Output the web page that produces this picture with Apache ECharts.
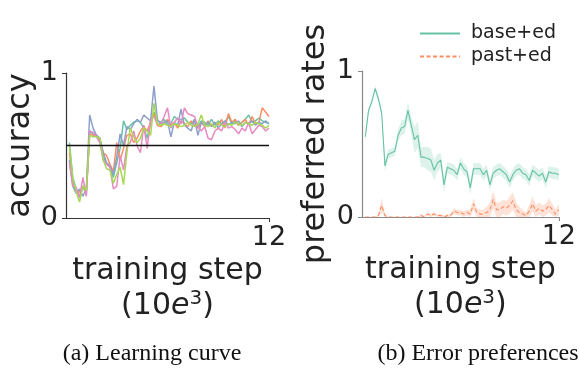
<!DOCTYPE html>
<html><head><meta charset="utf-8">
<script src="https://cdn.jsdelivr.net/npm/echarts@6/dist/echarts.min.js"></script>
<style>html,body{margin:0;padding:0;background:#fff}#c{width:579px;height:371px}</style>
</head><body><div id="c"></div>
<script>
// training steps (10e3)
var steps = [];
for (var i = 1; i <= 60; i++) steps.push(+(i * 0.2).toFixed(1));
var xTicks = [12];
var yTicks = [0, 1];

// (a) learning curves, five runs
var runGreen = [0.52,0.28,0.20,0.14,0.22,0.16,0.60,0.58,0.57,0.55,0.42,0.38,0.35,0.28,0.38,0.48,0.67,0.61,0.64,0.66,0.67,0.66,0.62,0.55,0.66,0.73,0.67,0.66,0.68,0.64,0.65,0.70,0.68,0.68,0.69,0.66,0.65,0.68,0.63,0.67,0.66,0.64,0.68,0.64,0.67,0.65,0.66,0.70,0.65,0.67,0.64,0.66,0.68,0.71,0.66,0.67,0.69,0.67,0.66,0.65];
var runOrange = [0.45,0.25,0.18,0.18,0.22,0.18,0.58,0.57,0.57,0.54,0.45,0.43,0.37,0.32,0.52,0.40,0.48,0.57,0.58,0.52,0.55,0.60,0.63,0.60,0.66,0.72,0.64,0.63,0.65,0.68,0.64,0.66,0.62,0.67,0.65,0.63,0.67,0.64,0.62,0.66,0.63,0.67,0.63,0.66,0.64,0.68,0.62,0.72,0.66,0.68,0.64,0.66,0.68,0.64,0.70,0.65,0.66,0.76,0.73,0.70];
var runBlue = [0.40,0.22,0.17,0.20,0.15,0.20,0.71,0.62,0.57,0.55,0.45,0.38,0.36,0.30,0.42,0.58,0.50,0.63,0.61,0.65,0.68,0.66,0.71,0.69,0.67,0.91,0.68,0.65,0.66,0.67,0.56,0.66,0.64,0.75,0.64,0.62,0.60,0.68,0.57,0.66,0.64,0.66,0.63,0.66,0.62,0.65,0.67,0.64,0.66,0.65,0.67,0.63,0.66,0.65,0.67,0.64,0.66,0.65,0.67,0.65];
var runPink = [0.38,0.22,0.21,0.14,0.28,0.15,0.60,0.59,0.56,0.52,0.40,0.37,0.35,0.20,0.22,0.43,0.33,0.50,0.52,0.60,0.50,0.45,0.64,0.48,0.68,0.70,0.65,0.65,0.70,0.76,0.62,0.66,0.69,0.65,0.76,0.72,0.71,0.70,0.63,0.60,0.63,0.55,0.54,0.60,0.62,0.60,0.66,0.62,0.63,0.61,0.58,0.62,0.60,0.66,0.58,0.61,0.64,0.63,0.60,0.62];
var runLime = [0.50,0.27,0.18,0.11,0.22,0.19,0.57,0.56,0.56,0.55,0.40,0.34,0.33,0.24,0.30,0.35,0.23,0.45,0.62,0.56,0.52,0.55,0.62,0.60,0.57,0.79,0.65,0.64,0.65,0.64,0.63,0.65,0.64,0.63,0.64,0.66,0.64,0.63,0.65,0.71,0.64,0.63,0.65,0.62,0.66,0.64,0.63,0.65,0.64,0.66,0.65,0.64,0.66,0.65,0.64,0.66,0.65,0.64,0.62,0.64];
var chanceLevel = 0.5;

// (b) error preferences: mean and spread
var baseEd = [0.55,0.73,0.79,0.88,0.81,0.71,0.35,0.43,0.44,0.45,0.56,0.61,0.62,0.73,0.63,0.53,0.56,0.41,0.41,0.40,0.39,0.32,0.37,0.39,0.22,0.34,0.33,0.32,0.29,0.37,0.33,0.31,0.20,0.33,0.33,0.33,0.29,0.32,0.22,0.30,0.32,0.33,0.31,0.29,0.24,0.29,0.32,0.33,0.30,0.29,0.25,0.32,0.30,0.28,0.30,0.24,0.31,0.30,0.30,0.29];
var baseEdErr = [0.03,0.02,0.02,0.02,0.02,0.03,0.04,0.03,0.03,0.03,0.04,0.05,0.05,0.06,0.06,0.09,0.09,0.07,0.07,0.08,0.08,0.07,0.06,0.05,0.05,0.04,0.04,0.04,0.04,0.04,0.04,0.04,0.05,0.04,0.04,0.04,0.04,0.04,0.04,0.04,0.04,0.04,0.04,0.04,0.04,0.04,0.04,0.04,0.04,0.04,0.04,0.04,0.04,0.04,0.04,0.04,0.04,0.04,0.04,0.04];
var pastEd = [0.00,0.00,0.00,0.00,0.01,0.08,0.01,0.00,0.00,0.00,0.00,0.00,0.00,0.00,0.00,0.00,0.00,0.01,0.00,0.02,0.01,0.02,0.01,0.01,0.00,0.01,0.01,0.04,0.03,0.03,0.02,0.03,0.02,0.09,0.03,0.02,0.02,0.03,0.05,0.12,0.05,0.05,0.07,0.06,0.08,0.11,0.05,0.03,0.02,0.01,0.04,0.09,0.04,0.06,0.04,0.05,0.08,0.05,0.02,0.05];
var pastEdErr = [0.00,0.00,0.00,0.00,0.01,0.05,0.01,0.00,0.00,0.00,0.00,0.00,0.00,0.00,0.00,0.00,0.00,0.01,0.01,0.01,0.01,0.01,0.01,0.01,0.01,0.01,0.01,0.02,0.02,0.02,0.02,0.02,0.03,0.04,0.03,0.03,0.03,0.04,0.05,0.06,0.05,0.05,0.05,0.05,0.06,0.06,0.05,0.04,0.03,0.02,0.04,0.05,0.04,0.04,0.04,0.04,0.05,0.04,0.03,0.04];

var C = {green:'#66c2a5', orange:'#fc8d62', blue:'#8da0cb', pink:'#e78ac3', lime:'#a6d854'};
var FONT = 'DejaVu Sans';

function pairs(ys){ return steps.map(function(x,i){ return [x, ys[i]]; }); }

function xAx(gi, axisColor){
  return {
    gridIndex: gi, type:'value', min:0, max:12,
    name:'training step\n(10{it|e}{sup|3}{p|)}', nameLocation:'middle', nameGap:18,
    nameTextStyle:{fontFamily:FONT, fontSize:30, color:'#222', lineHeight:35, padding:[2,0,0,0],
      rich:{it:{fontFamily:FONT, fontStyle:'italic', fontSize:30, color:'#222'},
            sup:{fontFamily:FONT, fontSize:20, color:'#222', verticalAlign:'top', padding:[0,0,14,0]},
            p:{fontFamily:FONT, fontSize:30, color:'#222'}}},
    axisLine:{show:true, lineStyle:{color:axisColor, width:1.2}},
    axisTick:{show:true, customValues:xTicks, length:4, lineStyle:{color:axisColor}},
    axisLabel:{customValues:xTicks, fontFamily:FONT, fontSize:27, color:'#222', margin:6},
    splitLine:{show:false}
  };
}
function yAx(gi, axisColor, title, gap){
  return {
    gridIndex: gi, type:'value', min:0, max:1, interval:1,
    name:title, nameLocation:'middle', nameGap:gap, nameRotate:90,
    nameTextStyle:{fontFamily:FONT, fontSize:32, color:'#222'},
    axisLine:{show:true, lineStyle:{color:axisColor, width:1.2}},
    axisTick:{show:true, length:4, lineStyle:{color:axisColor}},
    axisLabel:{fontFamily:FONT, fontSize:27, color:'#222', margin:8},
    splitLine:{show:false}
  };
}

var runs = [[runGreen,C.green],[runOrange,C.orange],[runBlue,C.blue],[runPink,C.pink],[runLime,C.lime]];
var series = runs.map(function(r, k){
  var s = {type:'line', xAxisIndex:0, yAxisIndex:0, data:pairs(r[0]), symbol:'none', silent:true,
    lineStyle:{color:r[1], width:1.5}, itemStyle:{color:r[1]}, z:3};
  if (k === 0) {
    s.markLine = {silent:true, symbol:['none','none'], label:{show:false},
      lineStyle:{color:'#111', width:1.3, type:'solid'}, data:[{yAxis:chanceLevel}]};
  }
  return s;
});

function band(mean, err, color, opacity){
  var data = steps.map(function(x,i){ return [x, Math.max(0, mean[i]-err[i]), mean[i]+err[i]]; });
  return {
    type:'custom', xAxisIndex:1, yAxisIndex:1, silent:true, z:2,
    encode:{x:0, y:[1,2]},
    data:data,
    renderItem:function(params, api){
      if (params.dataIndex !== 0) return null;
      var upper = [], lower = [];
      for (var j = 0; j < data.length; j++) {
        upper.push(api.coord([data[j][0], data[j][2]]));
        lower.unshift(api.coord([data[j][0], data[j][1]]));
      }
      return {type:'polygon', shape:{points:upper.concat(lower)},
        style:{fill:color, opacity:opacity, stroke:null}};
    }
  };
}
series.push(band(baseEd, baseEdErr, C.green, 0.22));
series.push(band(pastEd, pastEdErr, C.orange, 0.25));
series.push({name:'base+ed', type:'line', xAxisIndex:1, yAxisIndex:1, data:pairs(baseEd), symbol:'none', lineStyle:{color:C.green, width:1.1}, itemStyle:{color:C.green}, z:4});
series.push({name:'past+ed', type:'line', xAxisIndex:1, yAxisIndex:1, data:pairs(pastEd), symbol:'none', lineStyle:{color:C.orange, width:1.1, type:[4,2.5]}, itemStyle:{color:C.orange}, z:4});

var chart = echarts.init(document.getElementById('c'), null, {renderer:'canvas'});
chart.setOption({
  animation:false,
  backgroundColor:'#fff',
  grid:[
    {left:66, top:73, width:203, height:145},
    {left:362, top:71, width:198, height:146}
  ],
  xAxis:[xAx(0,'#333'), xAx(1,'#888')],
  yAxis:[yAx(0,'#333','accuracy',24), yAx(1,'#888','preferred rates',30)],
  legend:{right:18, top:19, orient:'vertical', itemWidth:40, itemHeight:10, itemGap:4,
    itemStyle:{opacity:0},
    data:['base+ed','past+ed'],
    textStyle:{fontFamily:FONT, fontSize:19, color:'#222', padding:[0,0,0,6]}},
  title:[
    {text:'(a) Learning curve', left:147, top:337, textAlign:'center',
      textStyle:{fontFamily:'Liberation Serif', fontSize:24, fontWeight:'normal', color:'#111'}},
    {text:'(b) Error preferences', left:473, top:337, textAlign:'center',
      textStyle:{fontFamily:'Liberation Serif', fontSize:24, fontWeight:'normal', color:'#111'}}
  ],
  series:series
});
</script></body></html>
